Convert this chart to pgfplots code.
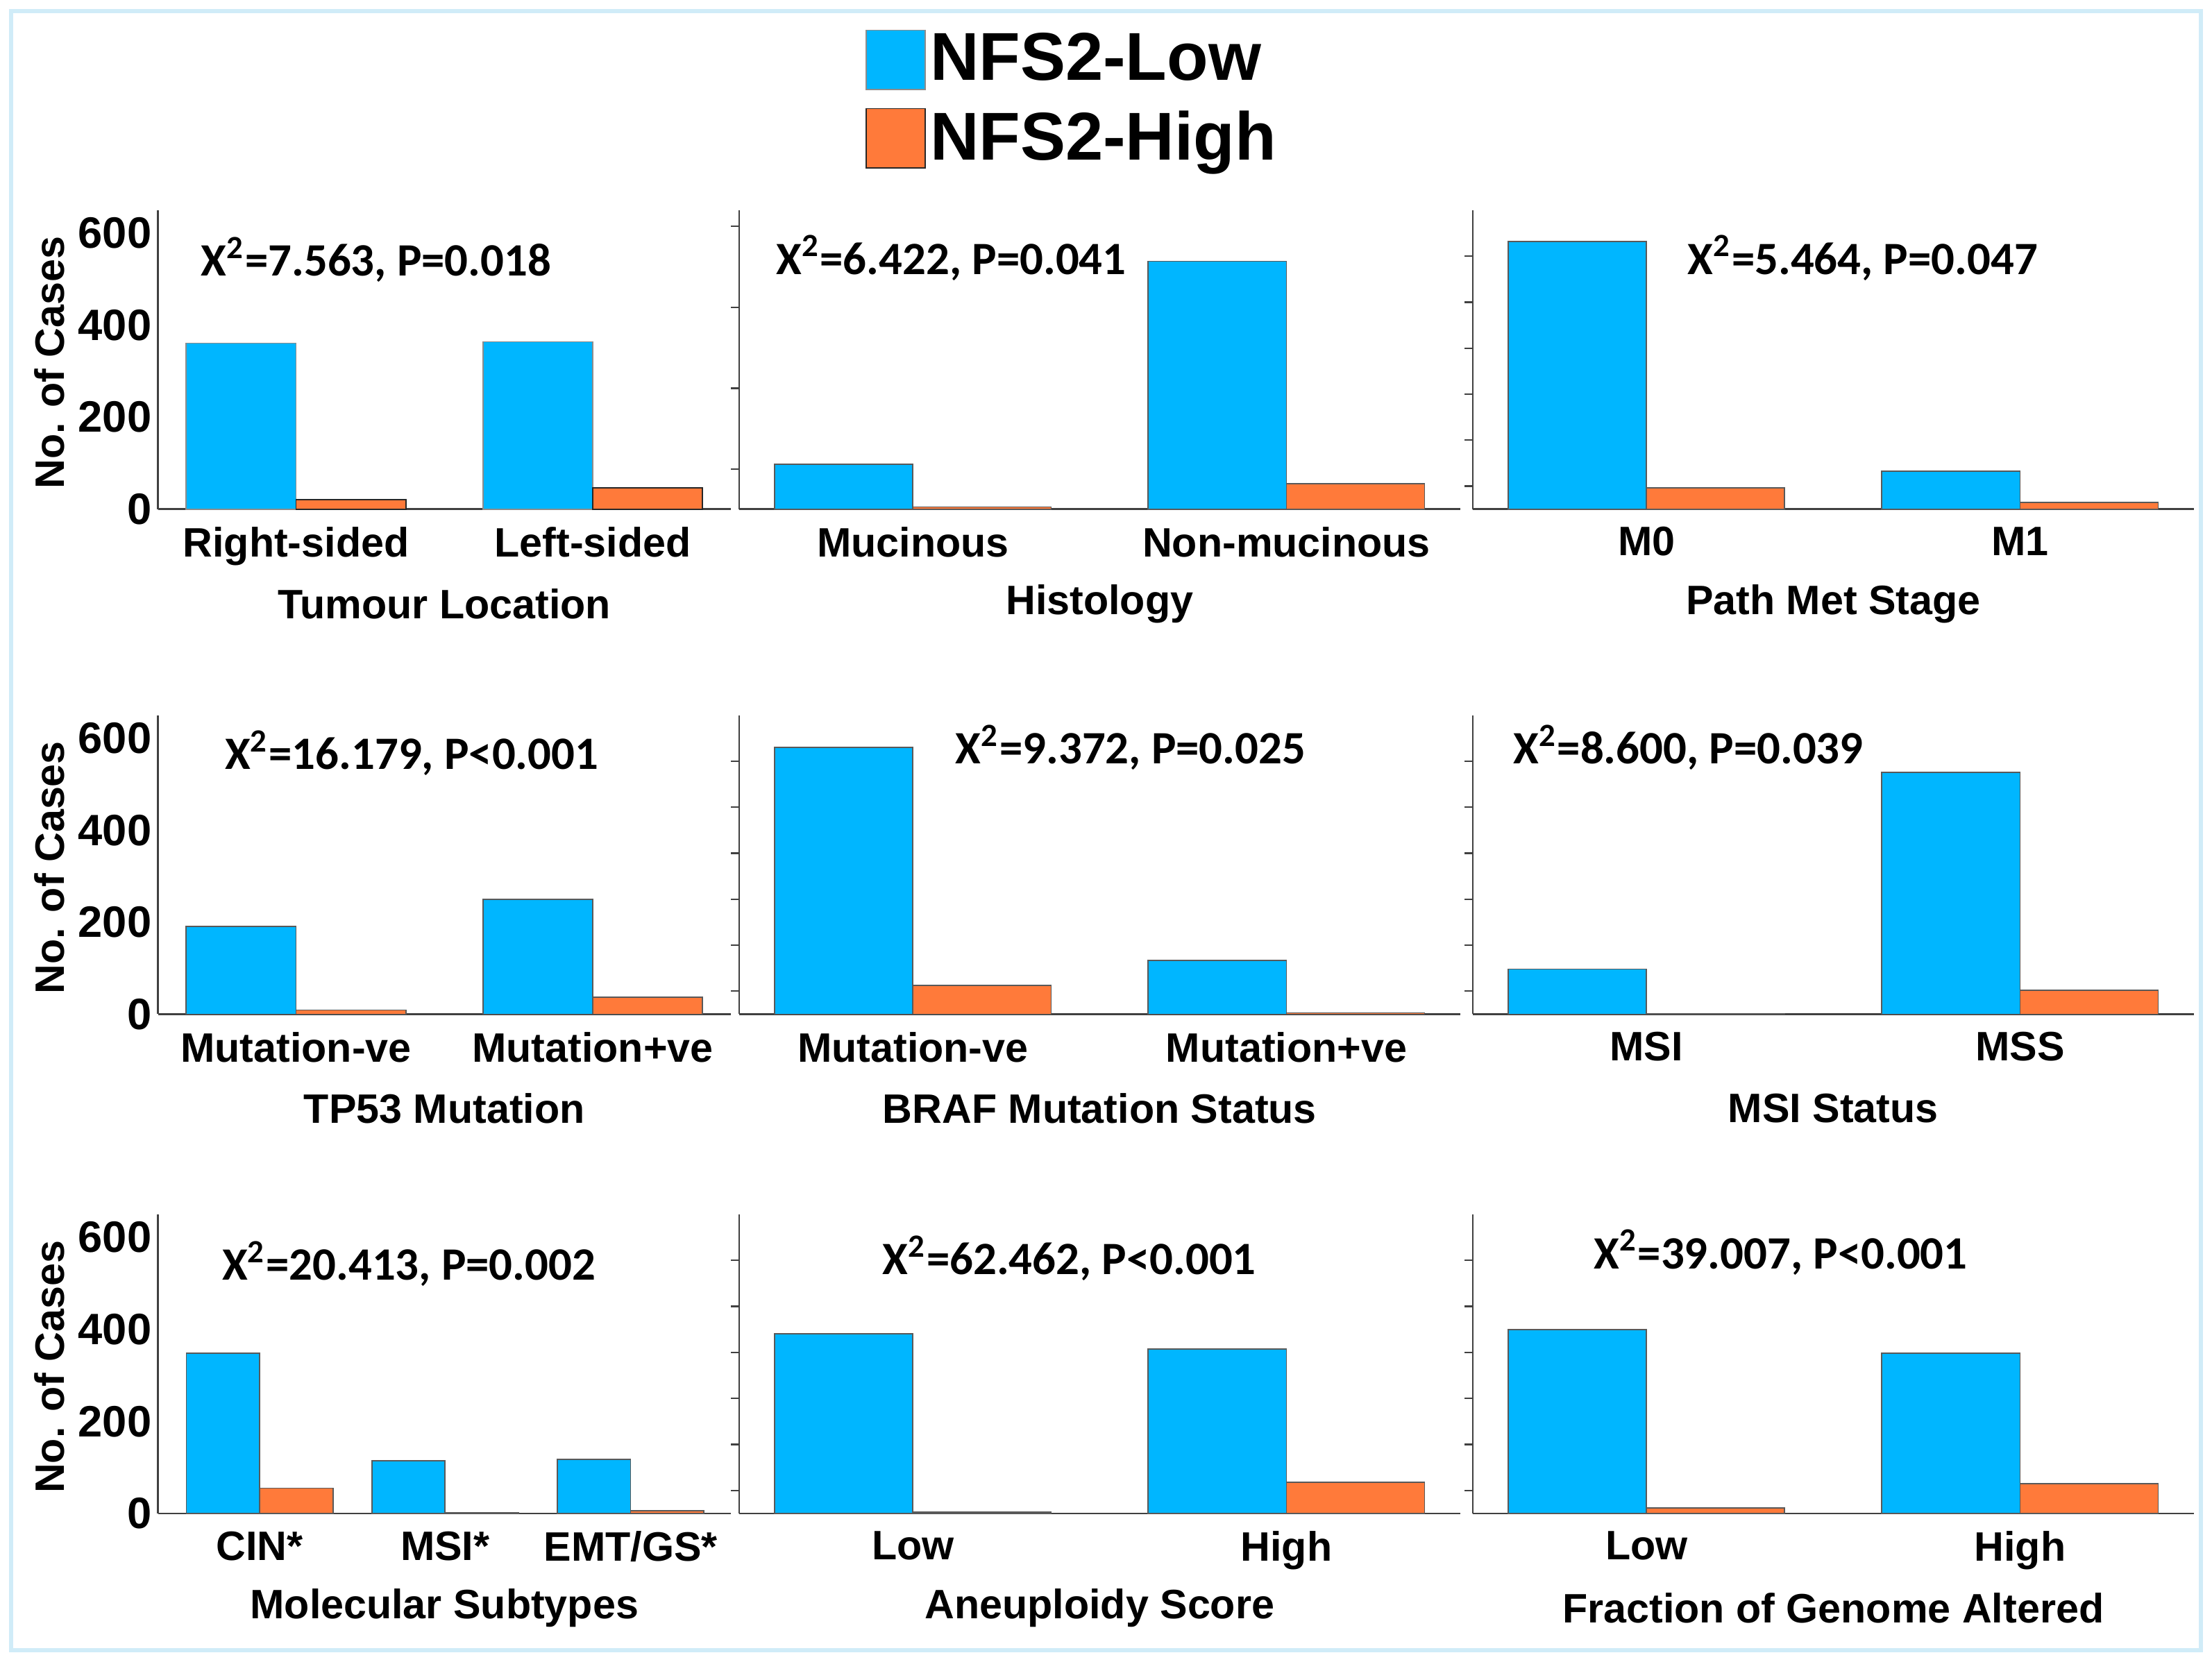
\documentclass[border=0pt]{standalone}
\usepackage{pgfplots}
\pgfplotsset{compat=1.18}
\usepackage{fontspec}
\setmainfont{Liberation Sans}
\newfontfamily\calibri{Carlito}

\definecolor{lowblue}{RGB}{0,182,255}
\definecolor{highorange}{RGB}{255,122,58}
\definecolor{framecol}{RGB}{208,236,248}

\newcommand{\lblfont}{\fontsize{10.2}{12}\selectfont\bfseries}
\newcommand{\statfont}{\calibri\fontsize{11.5}{13}\selectfont\bfseries}

\pgfplotsset{
  panel/.style={
    scale only axis, anchor=south west,
    height=74.2pt, ymin=0, ymax=650,
    axis x line*=bottom, axis y line*=left,
    axis line style={-, black!75, line width=0.45pt},
    ybar, bar width=0.37,
    xmin=0.535, xmax=2.465, xtick={1,2},
    xtick style={draw=none},
    tick align=outside, major tick length=2pt,
    ytick style={black!75, line width=0.4pt},
    ticklabel style={font=\lblfont},
    xticklabel style={yshift=1.1pt},
    /pgf/number format/assume math mode=true,
    xlabel style={at={(axis description cs:0.5,-0.316)}, anchor=center, font=\lblfont},
    clip=false,
  },
  wide/.style={width=178.85pt, ytick={50,150,250,350,450,550}, yticklabels={}},
  narrow/.style={width=142.1pt, ytick={0,200,400,600}, ytick style={draw=none},
    yticklabel style={font=\fontsize{10.9}{12}\selectfont\bfseries, anchor=east, inner sep=0pt, xshift=0.6pt},
    ylabel={No. of Cases},
    ylabel style={at={(axis description cs:-0.19,0.49)}, anchor=center, font=\lblfont}},
  lowbar/.style={fill=lowblue, draw=black!65, line width=0.3pt, bar shift=-0.185},
  highbar/.style={fill=highorange, draw=black!65, line width=0.3pt, bar shift=0.185},
}

\begin{document}
\begin{tikzpicture}
\useasboundingbox (0,0) rectangle (548.8pt,-412.3pt);
\fill[white] (0,0) rectangle (548.8pt,-412.3pt);
\draw[framecol, line width=1pt] (2.8pt,-2.8pt) rectangle (546pt,-409.5pt);

% ---- row 1 ----
\begin{axis}[panel, narrow, at={(39.2pt,-126.35pt)},
    xticklabels={Right-sided,Left-sided}, xlabel={Tumour Location},
    legend style={at={(axis description cs:1.234,1.608)}, anchor=north west,
      draw=none, fill=none, inner sep=0pt, row sep=4pt,
      font=\fontsize{16.8}{18}\selectfont\bfseries, nodes={inner sep=1pt}},
    legend cell align=left,
    legend image code/.code={\draw[#1] (0pt,-7.35pt) rectangle (14.7pt,7.35pt);}]
  \addplot[lowbar, draw=black!45] coordinates {(1,361) (2,364)};
  \addlegendentry{NFS2-Low}
  \addplot[highbar, draw=black!85] coordinates {(1,21) (2,46)};
  \addlegendentry{NFS2-High}
  \node[font=\statfont] at (rel axis cs:0.381,0.835) {X\textsuperscript{2}=7.563, P=0.018};
\end{axis}

\begin{axis}[panel, wide, at={(183.4pt,-126.35pt)}, ytick={87,263,439,615},
    xticklabels={Mucinous,Non-mucinous}, xlabel={Histology}]
  \addplot[lowbar] coordinates {(1,98) (2,539)};
  \addplot[highbar] coordinates {(1,5) (2,55)};
  \node[font=\statfont] at (rel axis cs:0.294,0.840) {X\textsuperscript{2}=6.422, P=0.041};
\end{axis}

\begin{axis}[panel, wide, at={(365.4pt,-126.35pt)},
    xticklabels={M0,M1}, xlabel={Path Met Stage}]
  \addplot[lowbar] coordinates {(1,582) (2,83)};
  \addplot[highbar] coordinates {(1,46) (2,15)};
  \node[font=\statfont] at (rel axis cs:0.541,0.840) {X\textsuperscript{2}=5.464, P=0.047};
\end{axis}

% ---- row 2 ----
\begin{axis}[panel, narrow, at={(39.2pt,-251.65pt)},
    xticklabels={Mutation-ve,Mutation+ve}, xlabel={TP53 Mutation}]
  \addplot[lowbar] coordinates {(1,191) (2,249)};
  \addplot[highbar] coordinates {(1,9) (2,37)};
  \node[font=\statfont] at (rel axis cs:0.443,0.873) {X\textsuperscript{2}=16.179, P<0.001};
\end{axis}

\begin{axis}[panel, wide, at={(183.4pt,-251.65pt)},
    xticklabels={Mutation-ve,Mutation+ve}, xlabel={BRAF Mutation Status}]
  \addplot[lowbar] coordinates {(1,580) (2,117)};
  \addplot[highbar] coordinates {(1,62) (2,3)};
  \node[font=\statfont] at (rel axis cs:0.543,0.892) {X\textsuperscript{2}=9.372, P=0.025};
\end{axis}

\begin{axis}[panel, wide, at={(365.4pt,-251.65pt)},
    xticklabels={MSI,MSS}, xlabel={MSI Status}]
  \addplot[lowbar] coordinates {(1,98) (2,526)};
  \addplot[highbar] coordinates {(1,1) (2,52)};
  \node[font=\statfont] at (rel axis cs:0.299,0.892) {X\textsuperscript{2}=8.600, P=0.039};
\end{axis}

% ---- row 3 ----
\begin{axis}[panel, narrow, at={(39.2pt,-375.55pt)},
    xmin=0.452, xmax=3.54, xtick={1,2,3}, bar width=0.395,
    xticklabels={CIN*,MSI*,EMT/GS*}, xlabel={Molecular Subtypes}]
  \addplot[lowbar, bar shift=-0.1975] coordinates {(1,348) (2,114) (3,117)};
  \addplot[highbar, bar shift=0.1975] coordinates {(1,55) (2,2) (3,6)};
  \node[font=\statfont] at (rel axis cs:0.438,0.835) {X\textsuperscript{2}=20.413, P=0.002};
\end{axis}

\begin{axis}[panel, wide, at={(183.4pt,-375.55pt)},
    xticklabels={Low,High}, xlabel={Aneuploidy Score}]
  \addplot[lowbar] coordinates {(1,391) (2,357)};
  \addplot[highbar] coordinates {(1,3) (2,68)};
  \node[font=\statfont] at (rel axis cs:0.458,0.854) {X\textsuperscript{2}=62.462, P<0.001};
\end{axis}

\begin{axis}[panel, wide, at={(365.4pt,-375.55pt)},
    xticklabels={Low,High}, xlabel={Fraction of Genome Altered}]
  \addplot[lowbar] coordinates {(1,400) (2,348)};
  \addplot[highbar] coordinates {(1,12) (2,65)};
  \node[font=\statfont] at (rel axis cs:0.427,0.873) {X\textsuperscript{2}=39.007, P<0.001};
\end{axis}
\end{tikzpicture}
\end{document}
